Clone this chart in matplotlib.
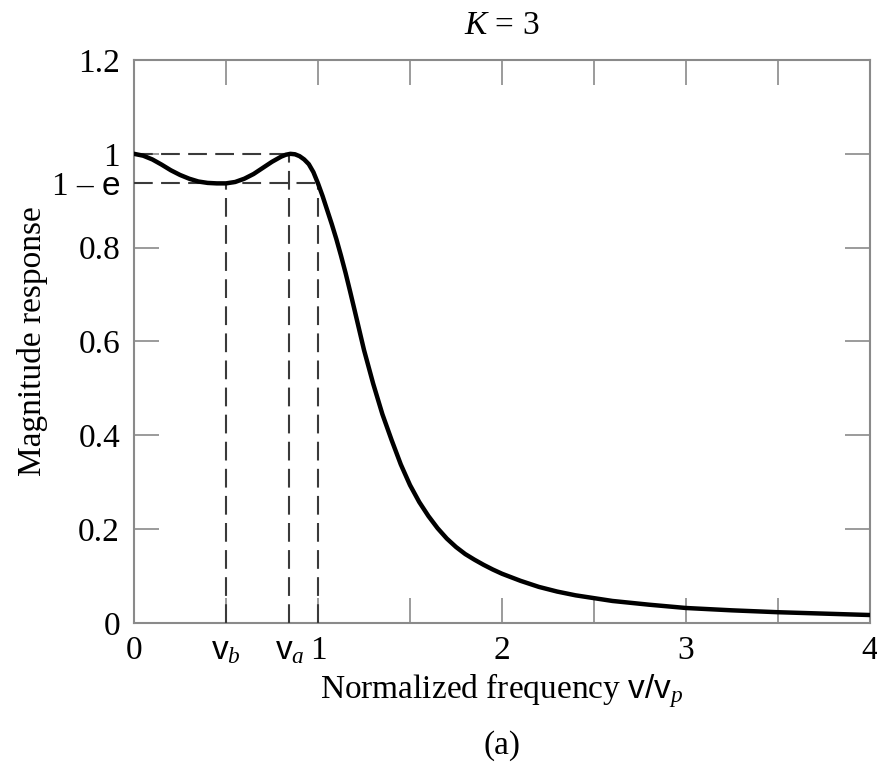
import numpy as np
import matplotlib
matplotlib.use('Agg')
import matplotlib.pyplot as plt

plt.rcParams['font.family'] = ['Liberation Serif', 'DejaVu Serif']
plt.rcParams['mathtext.fontset'] = 'custom'
plt.rcParams['mathtext.rm'] = 'Liberation Serif'
plt.rcParams['mathtext.it'] = 'Liberation Serif:italic'
plt.rcParams['mathtext.sf'] = 'Liberation Sans'

# Curva (K = 3)
freq = [0.0, 0.05, 0.1, 0.15, 0.2, 0.25, 0.3, 0.35, 0.4, 0.45, 0.5, 0.55,
        0.6, 0.65, 0.7, 0.75, 0.8, 0.825, 0.85, 0.875, 0.9, 0.925, 0.95,
        0.975, 1.0, 1.025, 1.05, 1.075, 1.1, 1.125, 1.15, 1.175, 1.2,
        1.25, 1.3, 1.35, 1.4, 1.45, 1.5, 1.55, 1.6, 1.65, 1.7, 1.75, 1.8,
        1.85, 1.9, 1.95, 2.0, 2.1, 2.2, 2.3, 2.4, 2.6, 2.8, 3.0, 3.25,
        3.5, 3.75, 4.0]
mag = [1.0, 0.996, 0.988, 0.977, 0.965, 0.955, 0.947, 0.941, 0.938, 0.937,
       0.937, 0.940, 0.947, 0.957, 0.970, 0.983, 0.994, 0.998, 1.0, 0.999,
       0.995, 0.988, 0.978, 0.961, 0.937, 0.91, 0.88, 0.85, 0.818, 0.783,
       0.746, 0.706, 0.665, 0.582, 0.51, 0.445, 0.39, 0.338, 0.294, 0.258,
       0.228, 0.202, 0.18, 0.162, 0.147, 0.135, 0.124, 0.114, 0.105, 0.09,
       0.077, 0.067, 0.059, 0.047, 0.039, 0.032, 0.027, 0.023, 0.020, 0.017]

V_B = 0.5
V_A = 0.845
NIVEL_MIN = 0.937

x_ticks = [0, 0.5, 1, 1.5, 2, 2.5, 3, 3.5, 4]
x_labels = ['0', r'$\mathsf{v}_{b}$', '1', '', '2', '', '3', '', '4']
y_ticks = [0, 0.2, 0.4, 0.6, 0.8, 1.0, 1.2]
y_labels = ['0', '0.2', '0.4', '0.6', '0.8', '1', '1.2']

FS = 24
gris = '#8a8a8a'
fig = plt.figure(figsize=(8.78, 7.7), dpi=100)
ax = fig.add_axes([0.1526, 0.1909, 0.8383, 0.7312])

ax.plot(freq, mag, color='black', linewidth=3.2, solid_joinstyle='round', zorder=5)

# lineas de referencia punteadas
estilo = dict(color='#3a3a3a', linewidth=1.5, dashes=(9.0, 4.0), zorder=3)
ax.plot([0, V_A], [1.0, 1.0], **estilo)
ax.plot([0, 1.0], [NIVEL_MIN, NIVEL_MIN], **estilo)
ax.plot([V_B, V_B], [0, NIVEL_MIN], **estilo)
ax.plot([V_A, V_A], [0, 1.0], **estilo)
ax.plot([1.0, 1.0], [0, NIVEL_MIN], **estilo)

ax.set_xlim(0, 4)
ax.set_ylim(0, 1.2)
ax.set_xticks(x_ticks)
ax.set_xticklabels(x_labels)
ax.set_yticks(y_ticks)
ax.set_yticklabels(y_labels)
ax.set_xticks([V_A], [r'$\mathsf{v}_{a}$'], minor=True)
ax.set_yticks([NIVEL_MIN], [r'1 – $\mathsf{e}$'], minor=True)

ax.tick_params(which='major', direction='in', length=18, width=1.2, color=gris,
               top=True, right=True, labelsize=FS)
ax.tick_params(which='minor', direction='in', length=0, labelsize=FS)
ax.tick_params(axis='x', which='both', pad=9)
ax.tick_params(axis='y', which='both', pad=10)

for s in ax.spines.values():
    s.set_color(gris)
    s.set_linewidth(1.5)

ax.set_xlabel(r'Normalized frequency $\mathsf{v/v}_{p}$', fontsize=FS, labelpad=4)
ax.set_ylabel('Magnitude response', fontsize=FS, labelpad=2)
ax.set_title(r'$K$ = 3', fontsize=FS, pad=19)
fig.text(0.5717, 0.032, '(a)', fontsize=FS, ha='center', va='center')

fig.savefig('out.png', dpi=100)
